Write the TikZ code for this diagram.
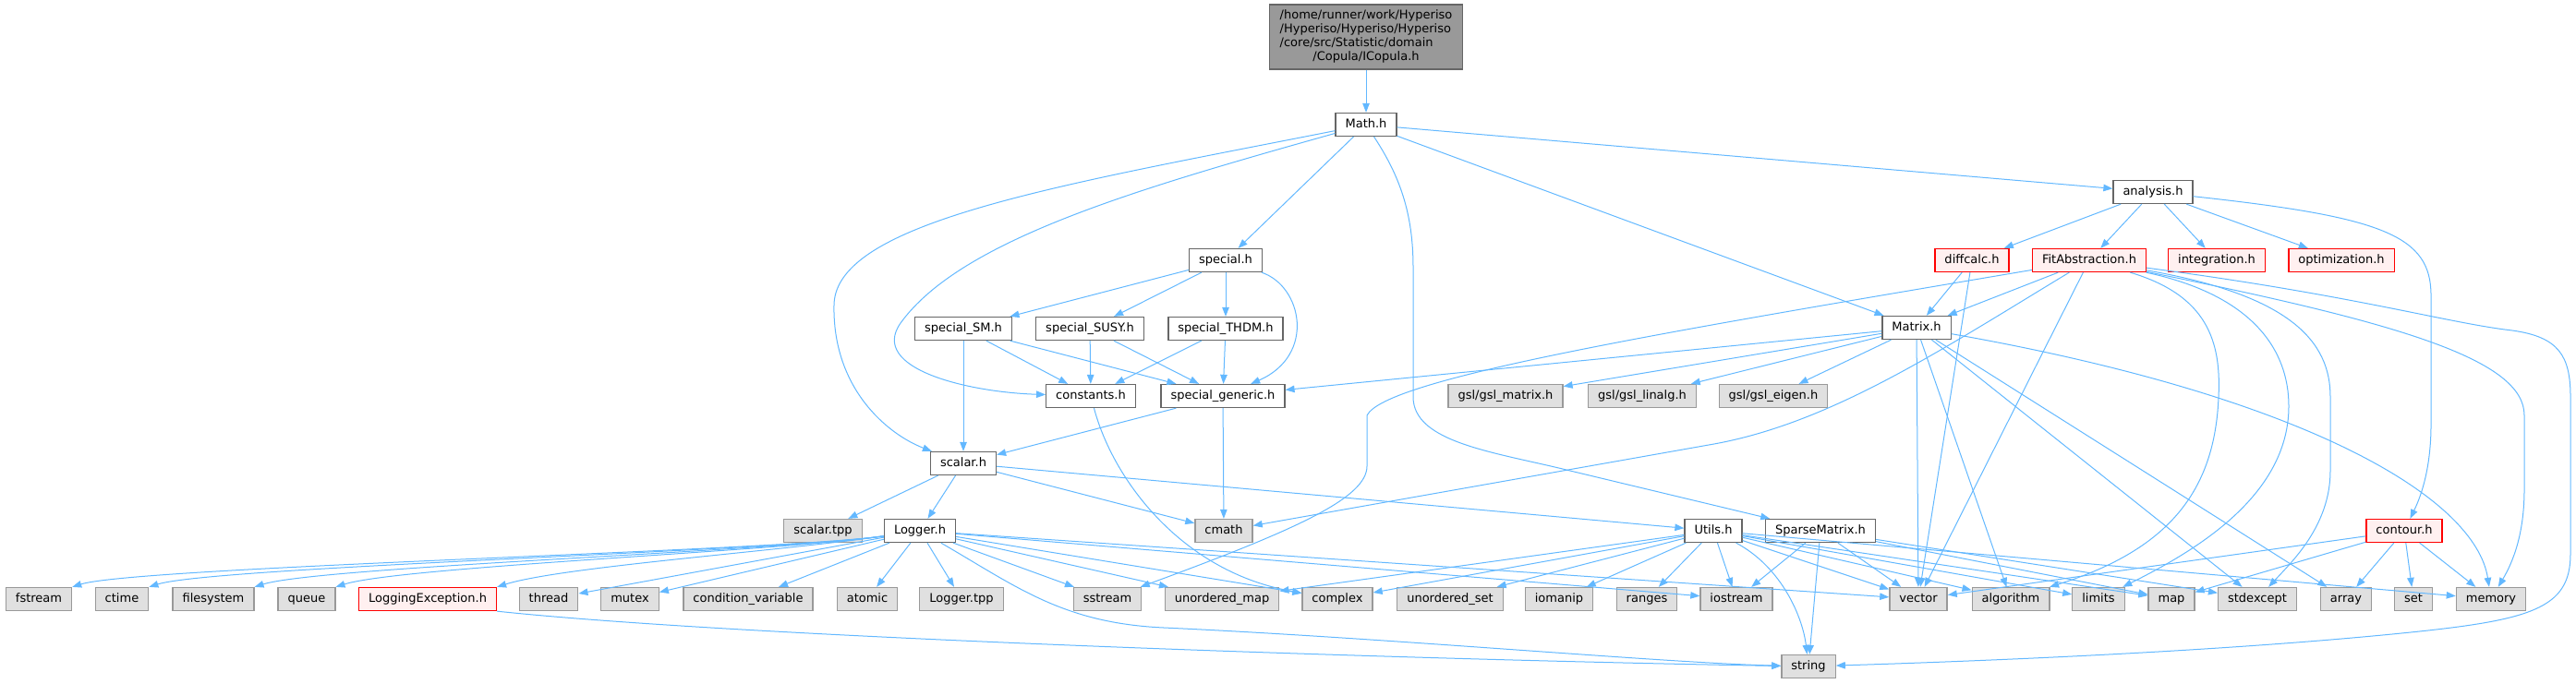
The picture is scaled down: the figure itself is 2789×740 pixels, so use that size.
\documentclass[tikz,border=0pt]{standalone}
\usepackage{fontspec}
\setmainfont{DejaVu Sans}
\usetikzlibrary{arrows.meta}

\definecolor{depblue}{HTML}{63B8FF}
\definecolor{hdrline}{HTML}{666666}
\definecolor{sysline}{HTML}{999999}
\definecolor{sysfill}{HTML}{E0E0E0}
\definecolor{redline}{HTML}{FF0000}
\definecolor{redfill}{HTML}{FFF0F0}
\definecolor{mainfill}{HTML}{999999}

\begin{document}
\begin{tikzpicture}[x=1pt,y=-1pt,
    box/.style={line width=1.3pt, inner xsep=10.5pt, inner ysep=0pt, minimum height=25pt,
      font=\fontsize{13}{15}\selectfont, text height=9.6pt, text depth=2.6pt},
    hdr/.style={box, draw=hdrline, fill=white},
    sys/.style={box, draw=sysline, fill=sysfill},
    bad/.style={box, draw=redline, fill=redfill},
    mainhdr/.style={draw=hdrline, fill=mainfill, line width=1.3pt, inner sep=0pt,
      minimum width=209pt, minimum height=70pt, font=\fontsize{13}{15}\selectfont},
    dep/.style={draw=depblue, line width=1pt, -{Triangle[length=10pt,width=7.5pt]}}]
  \useasboundingbox (0,0) rectangle (2789,740);

  \node[mainhdr] (icopula) at (1479,40) {\begin{tabular}{@{}l@{}}/home/runner/work/Hyperiso\\/Hyperiso/Hyperiso/Hyperiso\\/core/src/Statistic/domain\\\multicolumn{1}{@{}c@{}}{/Copula/ICopula.h}\end{tabular}};
  \node[hdr] (math) at (1479,135) {Math.h};
  \node[hdr] (analysis) at (2331,208) {analysis.h};
  \node[hdr] (special) at (1327,282) {special.h};
  \node[bad] (diffcalc) at (2135,282) {diffcalc.h};
  \node[bad] (fitabs) at (2262,282) {FitAbstraction.h};
  \node[bad] (integration) at (2400,282) {integration.h};
  \node[bad] (optimization) at (2535,282) {optimization.h};
  \node[hdr] (specialsm) at (1043,356) {special\_SM.h};
  \node[hdr] (specialsusy) at (1180,356) {special\_SUSY.h};
  \node[hdr] (specialthdm) at (1327,356) {special\_THDM.h};
  \node[hdr] (matrix) at (2075,355) {Matrix.h};
  \node[hdr] (constants) at (1181,429) {constants.h};
  \node[hdr] (specialgen) at (1324,429) {special\_generic.h};
  \node[sys] (gslmatrix) at (1630,429) {gsl/gsl\_matrix.h};
  \node[sys] (gsllinalg) at (1778,429) {gsl/gsl\_linalg.h};
  \node[sys] (gsleigen) at (1920,429) {gsl/gsl\_eigen.h};
  \node[hdr] (scalar) at (1043,502) {scalar.h};
  \node[sys] (scalartpp) at (891,575) {scalar.tpp};
  \node[hdr] (logger) at (996,575) {Logger.h};
  \node[sys] (cmath) at (1325,575) {cmath};
  \node[hdr] (utils) at (1855,575) {Utils.h};
  \node[hdr] (sparse) at (1971,575) {SparseMatrix.h};
  \node[bad] (contour) at (2603,575) {contour.h};
  \node[bad] (logexc) at (463,649) {LoggingException.h};
  \foreach \px/\nm/\txt in {42/fstream/fstream, 132/ctime/ctime, 231/filesystem/filesystem,
      332/queue/queue, 594/thread/thread, 682/mutex/mutex, 810/condvar/condition\_variable,
      939/atomic/atomic, 1041/loggertpp/Logger.tpp, 1199/sstream/sstream,
      1323/umap/unordered\_map, 1448/complex/complex, 1570/uset/unordered\_set,
      1688/iomanip/iomanip, 1783/ranges/ranges, 1880/iostream/iostream, 2077/vector/vector,
      2177/algorithm/algorithm, 2272/limits/limits, 2351/map/map, 2444/stdexcept/stdexcept,
      2540/array/array, 2613/set/set, 2697/memory/memory}
    \node[sys] (\nm) at (\px,649) {\txt};
  \node[sys] (string) at (1958,722) {string};

  \draw[dep] (icopula) -- (math);
  \foreach \t in {special,matrix,analysis}
    \draw[dep] (math) -- (\t);
  \draw[dep] (math) .. controls (1150,200) and (905,240) .. (903,330)
    .. controls (901,420) and (960,470) .. (scalar);
  \draw[dep] (math) .. controls (1230,205) and (1040,260) .. (975,350)
    .. controls (940,400) and (1050,425) .. (constants);
  \draw[dep] (math) .. controls (1515,190) and (1530,230) .. (1530,290) -- (1530,430)
    .. controls (1530,480) and (1620,490) .. (1700,510) -- (sparse);

  \foreach \t in {specialsm,specialsusy,specialthdm}
    \draw[dep] (special) -- (\t);
  \draw[dep] (special) .. controls (1410,310) and (1425,385) .. (specialgen);
  \foreach \t in {scalar,constants,specialgen}
    \draw[dep] (specialsm) -- (\t);
  \foreach \s in {specialsusy,specialthdm} {
    \foreach \t in {constants,specialgen}
      \draw[dep] (\s) -- (\t);
  }
  \draw[dep] (constants) .. controls (1205,520) and (1280,620) .. (complex);
  \foreach \t in {scalar,cmath}
    \draw[dep] (specialgen) -- (\t);
  \foreach \t in {scalartpp,logger,cmath,utils}
    \draw[dep] (scalar) -- (\t);

  \foreach \t in {fstream,ctime,filesystem,queue,logexc}
    \draw[dep] (logger) .. controls +(-150,22) and +(70,-22) .. (\t.north east);
  \foreach \t in {thread,mutex,condvar,atomic,loggertpp,sstream,umap,complex,iostream,vector}
    \draw[dep] (logger) -- (\t);
  \draw[dep] (logger) .. controls (1100,635) and (1150,675) .. (1260,680)
    .. controls (1500,691) and (1800,718) .. (string);
  \draw[dep] (logexc.south east) .. controls (800,690) and (1500,714) .. (string);

  \foreach \t in {umap,complex,uset,iomanip,ranges,iostream,vector,algorithm,limits,map,memory}
    \draw[dep] (utils) -- (\t);
  \draw[dep] (utils) .. controls (1930,615) and (1952,670) .. (string);
  \foreach \t in {iostream,string,vector,map,stdexcept}
    \draw[dep] (sparse) -- (\t);

  \foreach \t in {diffcalc,fitabs,integration,optimization}
    \draw[dep] (analysis) -- (\t);
  \draw[dep] (analysis) .. controls (2580,235) and (2632,255) .. (2632,320) -- (2632,460)
    .. controls (2632,510) and (2620,540) .. (contour);
  \foreach \t in {matrix,vector}
    \draw[dep] (diffcalc) -- (\t);

  \foreach \t in {specialgen,gslmatrix,gsllinalg,gsleigen,vector,algorithm,stdexcept,array}
    \draw[dep] (matrix) -- (\t);
  \draw[dep] (matrix) .. controls (2500,430) and (2680,540) .. (memory);

  \foreach \t in {matrix,vector}
    \draw[dep] (fitabs) -- (\t);
  \draw[dep] (fitabs) .. controls (1800,360) and (1500,410) .. (1480,450) -- (1480,505)
    .. controls (1480,540) and (1400,575) .. (sstream);
  \draw[dep] (fitabs) .. controls (2100,380) and (1980,460) .. (1850,482) -- (cmath);
  \draw[dep] (fitabs) .. controls (2390,320) and (2405,370) .. (2402,430)
    .. controls (2398,530) and (2350,595) .. (algorithm);
  \draw[dep] (fitabs) .. controls (2440,320) and (2478,380) .. (2478,440)
    .. controls (2478,540) and (2370,600) .. (limits);
  \draw[dep] (fitabs) .. controls (2480,320) and (2523,370) .. (2523,430) -- (2523,510)
    .. controls (2523,570) and (2480,610) .. (stdexcept);
  \draw[dep] (fitabs) .. controls (2600,350) and (2733,390) .. (2733,450) -- (2733,530)
    .. controls (2733,580) and (2720,610) .. (memory);
  \draw[dep] (fitabs) .. controls (2550,320) and (2650,350) .. (2720,358)
    .. controls (2770,365) and (2783,385) .. (2783,430) -- (2783,600)
    .. controls (2783,660) and (2740,672) .. (2600,686)
    .. controls (2400,706) and (2150,716) .. (string);

  \foreach \t in {vector,map,array,set,memory}
    \draw[dep] (contour) -- (\t);
\end{tikzpicture}
\end{document}
